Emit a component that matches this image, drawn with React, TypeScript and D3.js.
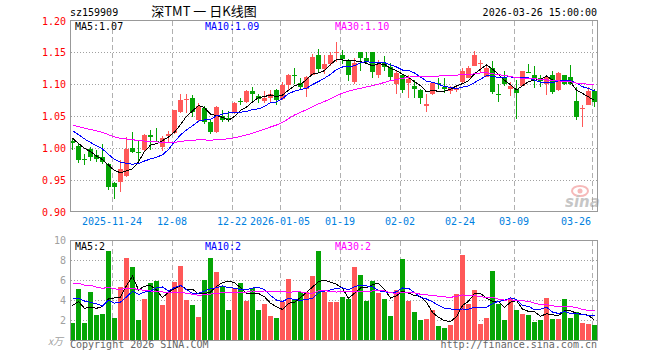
import * as d3 from 'd3';

// trading days shown, grouped by month
const tradingDays: [string, number[]][] = [
  ['2025-11', [13, 14, 17, 18, 19, 20, 21, 24, 25, 26, 27, 28]],
  ['2025-12', [1, 2, 3, 4, 5, 8, 9, 10, 11, 12, 15, 16, 17, 18, 19, 22, 23, 24, 25, 26, 29, 30, 31]],
  ['2026-01', [5, 6, 7, 8, 9, 12, 13, 14, 15, 16, 19, 20, 21, 22, 23, 26, 27, 28, 29, 30]],
  ['2026-02', [2, 3, 4, 5, 6, 9, 10, 11, 12, 13, 24, 25, 26, 27]],
  ['2026-03', [2, 3, 4, 5, 6, 9, 10, 11, 12, 13, 16, 17, 18, 19, 20, 23, 24, 25, 26]],
];
const dates = tradingDays.flatMap(([m, days]) => days.map(d => `${m}-${String(d).padStart(2, '0')}`));

const opens = [
  1.011, 1.003, 0.982, 0.998, 0.989, 0.986, 0.975, 0.944, 0.947, 0.955, 0.999, 0.994, 0.997, 1.020, 1.011, 1.002,
  1.019, 1.023, 1.056, 1.075, 1.078, 1.043, 1.062, 1.041, 1.025, 1.050, 1.047, 1.054, 1.074, 1.072, 1.089, 1.081,
  1.073, 1.079, 1.091, 1.076, 1.099, 1.115, 1.102, 1.093, 1.115, 1.146, 1.124, 1.131, 1.149, 1.146, 1.138, 1.103,
  1.150, 1.141, 1.150, 1.115, 1.134, 1.127, 1.100, 1.115, 1.102, 1.097, 1.091, 1.065, 1.085, 1.102, 1.096, 1.090,
  1.091, 1.103, 1.110, 1.129, 1.132, 1.112, 1.125, 1.085, 1.112, 1.092, 1.092, 1.097, 1.119, 1.115, 1.110, 1.101,
  1.115, 1.091, 1.114, 1.111, 1.074, 1.062, 1.068, 1.089,
];
const highs = [
  1.014, 1.006, 0.991, 1.001, 0.997, 1.006, 0.976, 0.947, 0.981, 1.017, 1.025, 1.011, 1.022, 1.028, 1.031, 1.019,
  1.027, 1.060, 1.084, 1.084, 1.083, 1.071, 1.066, 1.044, 1.066, 1.059, 1.058, 1.072, 1.079, 1.091, 1.095, 1.084,
  1.089, 1.091, 1.092, 1.104, 1.116, 1.126, 1.110, 1.113, 1.148, 1.155, 1.146, 1.150, 1.166, 1.154, 1.139, 1.141,
  1.151, 1.150, 1.151, 1.138, 1.145, 1.134, 1.122, 1.116, 1.114, 1.107, 1.092, 1.085, 1.103, 1.110, 1.110, 1.097,
  1.097, 1.125, 1.129, 1.152, 1.138, 1.131, 1.136, 1.100, 1.121, 1.103, 1.106, 1.120, 1.131, 1.128, 1.115, 1.115,
  1.120, 1.119, 1.115, 1.130, 1.096, 1.067, 1.096, 1.093,
];
const lows = [
  0.997, 0.976, 0.973, 0.979, 0.978, 0.975, 0.933, 0.919, 0.931, 0.954, 0.992, 0.978, 0.994, 0.997, 1.009, 0.995,
  1.009, 1.022, 1.055, 1.054, 1.048, 1.040, 1.038, 1.021, 1.024, 1.041, 1.041, 1.053, 1.067, 1.070, 1.070, 1.070,
  1.071, 1.072, 1.068, 1.075, 1.091, 1.100, 1.093, 1.080, 1.114, 1.119, 1.116, 1.128, 1.135, 1.131, 1.105, 1.101,
  1.121, 1.131, 1.110, 1.109, 1.121, 1.107, 1.084, 1.086, 1.079, 1.079, 1.069, 1.056, 1.083, 1.092, 1.086, 1.084,
  1.088, 1.101, 1.110, 1.128, 1.118, 1.112, 1.084, 1.072, 1.097, 1.081, 1.046, 1.097, 1.117, 1.094, 1.096, 1.083,
  1.084, 1.090, 1.099, 1.099, 1.044, 1.033, 1.067, 1.064,
];
const closes = [
  1.007, 0.981, 0.981, 0.985, 0.982, 0.978, 0.938, 0.939, 0.967, 0.998, 0.993, 0.993, 1.020, 1.017, 1.010, 1.016,
  1.022, 1.059, 1.075, 1.076, 1.057, 1.066, 1.041, 1.025, 1.064, 1.044, 1.043, 1.071, 1.073, 1.089, 1.085, 1.077,
  1.079, 1.085, 1.075, 1.099, 1.115, 1.114, 1.096, 1.112, 1.142, 1.124, 1.132, 1.146, 1.150, 1.139, 1.115, 1.133,
  1.141, 1.136, 1.119, 1.132, 1.127, 1.111, 1.117, 1.091, 1.108, 1.093, 1.079, 1.069, 1.102, 1.101, 1.093, 1.096,
  1.094, 1.120, 1.125, 1.146, 1.133, 1.126, 1.088, 1.084, 1.100, 1.097, 1.086, 1.120, 1.118, 1.109, 1.105, 1.112,
  1.088, 1.117, 1.100, 1.100, 1.048, 1.063, 1.089, 1.072,
];
const volumes = [
  1.75, 5.15, 1.75, 4.9, 2.55, 2.65, 8.95, 2.25, 5.35, 8.25, 7.35, 2.05, 4.15, 5.75, 5.95, 3.55,
  4.75, 5.85, 7.45, 4.05, 3.55, 2.35, 6.05, 8.25, 6.85, 5.45, 3.05, 5.3, 5.8, 4.0, 5.3, 3.1,
  3.7, 2.5, 2.3, 3.9, 6.2, 4.2, 4.9, 4.9, 6.5, 9.0, 4.9, 3.9, 3.85, 4.35, 4.15, 7.35,
  6.55, 3.95, 5.95, 4.75, 4.15, 2.45, 5.05, 8.15, 3.95, 2.85, 2.05, 2.15, 3.05, 1.45, 1.25, 1.55,
  4.65, 8.55, 3.65, 5.05, 1.65, 2.25, 6.95, 3.65, 2.05, 4.25, 3.05, 2.65, 2.55, 1.85, 2.05, 4.25,
  2.15, 2.15, 4.15, 2.25, 2.85, 1.75, 1.65, 1.55,
];

// sessions before the window, estimated from where the MA lines start
const prevCloses = [
  1.060, 1.055, 1.050, 1.045, 1.052, 1.045, 1.040, 1.034, 1.030, 1.028, 1.035, 1.042, 1.038, 1.030, 1.033,
  1.040, 1.045, 1.038, 1.034, 1.036, 1.044, 1.048, 1.040, 1.035, 1.028, 1.022, 1.018, 1.012, 1.016,
];
const prevVolumes = [
  6.0, 7.2, 5.5, 8.1, 6.3, 5.8, 7.0, 6.6, 5.2, 7.4, 6.1, 5.9, 8.0, 6.8, 5.6,
  6.4, 7.1, 6.0, 6.5, 6.5, 5.6, 4.3, 6.2, 4.1, 4.8, 3.2, 5.1, 4.4, 3.05,
];

const tickDates = ['2025-11-24', '2025-12-08', '2025-12-22', '2026-01-05', '2026-01-19', '2026-02-02', '2026-02-24', '2026-03-09', '2026-03-26'];
const tickLabels = ['2025-11-24', '12-08', '12-22', '2026-01-05', '01-19', '02-02', '02-24', '03-09', '03-26'];
const priceTicks = [0.9, 0.95, 1.0, 1.05, 1.1, 1.15, 1.2];
const volTicks = [2, 4, 6, 8, 10];
const maPeriods = [5, 10, 30];
const maColors = ['#000000', '#0000ff', '#ff00ff'];

const RED = '#ff5858';
const GREEN = '#05a505';
const MONO = "'DejaVu Sans Mono', 'Liberation Mono', monospace";

function movingAvg(prev: number[], cur: number[], n: number) {
  const all = prev.concat(cur);
  return cur.map((_, i) => d3.mean(all.slice(prev.length + i - n + 1, prev.length + i + 1)) as number);
}

const App = () => {
  const left = 70;
  const right = 598;
  const idx = d3.range(dates.length);

  const x = d3.scaleBand<number>().domain(idx).range([left, right]);
  const y = d3.scaleLinear().domain([0.9, 1.2]).range([211.5, 20.5]);
  const yv = d3.scaleLinear().domain([0, 10]).range([340.5, 240.5]);
  const cx = (i: number) => (x(i) as number) + 2.5;

  const priceMA = maPeriods.map(n => movingAvg(prevCloses, closes, n));
  const volMA = maPeriods.map(n => movingAvg(prevVolumes, volumes, n));

  const priceLine = d3.line<number>().x((_, i) => cx(i)).y(d => y(d));
  const volLine = d3.line<number>().x((_, i) => cx(i)).y(d => yv(d));

  const last = dates.length - 1;
  const tickIdx = tickDates.map(d => dates.indexOf(d));

  return (
    <svg width={660} height={360} style={{ position: 'fixed', left: 0, top: 0, background: '#fff' }}>
      {/* header */}
      <text x={70} y={16} fontFamily={MONO} fontSize={10} fill="#000">sz159909</text>
      <text x={204} y={16} textAnchor="middle" fontFamily="'Noto Sans CJK SC', sans-serif" fontSize={13} fill="#000">
        深TMT 一 日K线图
      </text>
      <text x={597} y={16} textAnchor="end" fontFamily={MONO} fontSize={10} fill="#000">2026-03-26 15:00:00</text>

      {/* grid: horizontal dotted */}
      {priceTicks.slice(1, -1).map(t => (
        <line key={'pg' + t} x1={left + 1} x2={right - 1} y1={Math.round(y(t)) + 0.5} y2={Math.round(y(t)) + 0.5}
          stroke="#a0a0a0" strokeDasharray="1,2" shapeRendering="crispEdges" />
      ))}
      {volTicks.slice(0, -1).map(t => (
        <line key={'vg' + t} x1={left + 1} x2={right - 1} y1={yv(t)} y2={yv(t)}
          stroke="#a0a0a0" strokeDasharray="1,2" shapeRendering="crispEdges" />
      ))}
      {/* grid: vertical dashed */}
      {tickIdx.map(i => (
        <g key={'vl' + i}>
          <line x1={(x(i) as number) + 0.5} x2={(x(i) as number) + 0.5} y1={21} y2={211}
            stroke="#b0b0b0" strokeDasharray="5,3" shapeRendering="crispEdges" />
          <line x1={(x(i) as number) + 0.5} x2={(x(i) as number) + 0.5} y1={241} y2={340}
            stroke="#b0b0b0" strokeDasharray="5,3" shapeRendering="crispEdges" />
        </g>
      ))}

      {/* watermark */}
      <g opacity={0.55}>
        <ellipse cx={580} cy={191} rx={8} ry={5} fill="none" stroke="#f08080" strokeWidth={2} />
        <circle cx={580} cy={191} r={2.5} fill="#f08080" />
        <text x={565} y={207} fontFamily="'DejaVu Sans', sans-serif" fontSize={15} fontStyle="italic" fontWeight="bold" fill="#999">sina</text>
      </g>

      {/* candles */}
      {idx.map(i => {
        const o = opens[i], c = closes[i];
        const col = c > o ? RED : GREEN;
        const top = Math.round(y(Math.max(o, c)));
        const bot = Math.round(y(Math.min(o, c)));
        return (
          <g key={'c' + i} shapeRendering="crispEdges">
            <line x1={cx(i)} x2={cx(i)} y1={Math.round(y(highs[i]))} y2={Math.round(y(lows[i]))} stroke={col} />
            <rect x={x(i)} y={top} width={5} height={Math.max(1, bot - top)} fill={col} />
          </g>
        );
      })}

      {/* price MAs */}
      {priceMA.map((s, k) => (
        <path key={'pm' + k} d={priceLine(s) || ''} fill="none" stroke={maColors[k]} strokeWidth={1} shapeRendering="crispEdges" />
      ))}

      {/* volume bars */}
      {idx.map(i => {
        const top = Math.round(yv(volumes[i]));
        return (
          <rect key={'v' + i} x={x(i)} y={top} width={5} height={340 - top}
            fill={closes[i] > opens[i] ? RED : GREEN} shapeRendering="crispEdges" />
        );
      })}
      {volMA.map((s, k) => (
        <path key={'vm' + k} d={volLine(s) || ''} fill="none" stroke={maColors[k]} strokeWidth={1} shapeRendering="crispEdges" />
      ))}

      {/* frames */}
      <rect x={70.5} y={20.5} width={527} height={191} fill="none" stroke="#999" shapeRendering="crispEdges" />
      <rect x={70.5} y={240.5} width={527} height={100} fill="none" stroke="#999" shapeRendering="crispEdges" />

      {/* axis labels */}
      {priceTicks.map(t => (
        <text key={'pl' + t} x={66} y={y(t) + 4} textAnchor="end" fontFamily={MONO} fontSize={10} fill="#ff0000">
          {t.toFixed(2)}
        </text>
      ))}
      {volTicks.map(t => (
        <text key={'vt' + t} x={66} y={yv(t) + 3.5} textAnchor="end" fontFamily={MONO} fontSize={10} fill="#a0a0a0">
          {t}
        </text>
      ))}
      <text x={48} y={345} fontFamily="'Noto Sans CJK SC', sans-serif" fontSize={10} fontStyle="italic" fill="#a0a0a0">x万</text>
      {tickIdx.map((i, k) => (
        <text key={'dl' + k} x={i === last ? 591 : (x(i) as number)} y={225}
          textAnchor={i === last ? 'end' : 'middle'} fontFamily={MONO} fontSize={10} fill="#0080e0">
          {tickLabels[k]}
        </text>
      ))}

      {/* MA legends */}
      {maPeriods.map((n, k) => (
        <text key={'pml' + n} x={75 + 130 * k} y={30} fontFamily={MONO} fontSize={10} fill={maColors[k]}>
          {`MA${n}:${priceMA[k][last].toFixed(2)}`}
        </text>
      ))}
      {maPeriods.map((n, k) => (
        <text key={'vml' + n} x={75 + 130 * k} y={250} fontFamily={MONO} fontSize={10} fill={maColors[k]}>
          {`MA${n}:${Math.floor(volMA[k][last])}`}
        </text>
      ))}

      {/* footer */}
      <text x={70} y={348} fontFamily={MONO} fontSize={10} fill="#666">Copyright 2026 SINA.COM</text>
      <text x={597} y={348} textAnchor="end" fontFamily={MONO} fontSize={10} fill="#666">http://finance.sina.com.cn</text>
    </svg>
  );
};

export default App;
